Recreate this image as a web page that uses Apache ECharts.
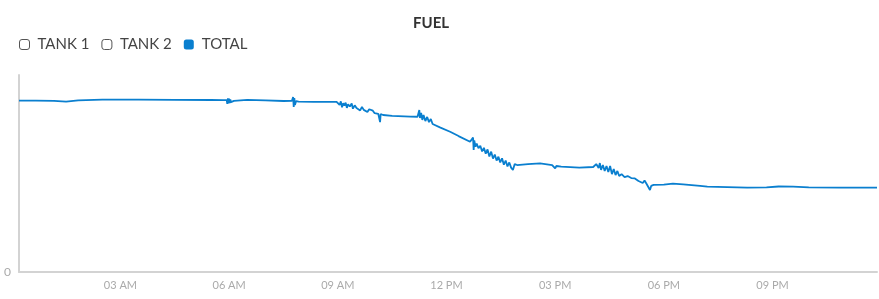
<!DOCTYPE html>
<html>
<head>
<meta charset="utf-8">
<script src="https://cdn.jsdelivr.net/npm/echarts@6/dist/echarts.min.js"></script>
<style>
html,body{margin:0;padding:0;background:#fff;}
#c{width:879px;height:299px;}
</style>
</head>
<body>
<div id="c"></div>
<script>
var titleText = 'FUEL';
var seriesNames = ['TANK 1', 'TANK 2', 'TOTAL'];
var tickHours = [3, 6, 9, 12, 15, 18, 21];
var tickLabels = ['03 AM', '06 AM', '09 AM', '12 PM', '03 PM', '06 PM', '09 PM'];
var axisStart = '00:12';
var axisEnd = '23:53';
var yMax = 1000;

var times = [
'00:12','00:40','01:10','01:30','01:50','02:30','03:30','04:30','05:30','05:50',
'05:56','05:57','05:58','05:59','06:00','06:01','06:02','06:03','06:05','06:08',
'06:30','07:00','07:30','07:44','07:46','07:47','07:48','07:49','07:51','07:55',
'08:20','08:58',
'09:01','09:03','09:05','09:07','09:09','09:11','09:13','09:15','09:17','09:20',
'09:23','09:25','09:28','09:31','09:34','09:37','09:40','09:43','09:46','09:49',
'09:52','09:55','09:58','10:01','10:04','10:07','10:10','10:11',
'10:15','10:30','11:00','11:12',
'11:15','11:16','11:18','11:20','11:22','11:25','11:28','11:31','11:34','11:37','11:40',
'11:50','12:06','12:20','12:39',
'12:42','12:44','12:45','12:46','12:48','12:50','12:53','12:56','12:59','13:02',
'13:05','13:08','13:11','13:14','13:17','13:20','13:23','13:26','13:29','13:32',
'13:35','13:38','13:41','13:44','13:47','13:50','13:53','13:57',
'14:15','14:35','14:55','15:00','15:02','15:10','15:40','16:03',
'16:08','16:10','16:12','16:14','16:16','16:19','16:22','16:25','16:28','16:31',
'16:34','16:37','16:40','16:43','16:46','16:50','16:55','17:00','17:06',
'17:12','17:18','17:21','17:25','17:28','17:31','17:34','17:37','17:39','17:43',
'18:00','18:15','18:32','19:00','19:12','19:45','20:18','20:50','21:10','21:34',
'22:00','22:52','23:30','23:53'
];
var totalValues = [
870,870,869,865,871,875,875,874,873,872,
872,853,882,856,880,858,876,862,870,869,
874,871,868,869,888,838,883,848,868,865,
864,864,
865,848,866,836,857,845,860,833,851,840,
855,829,846,832,842,820,838,823,828,812,
826,816,819,806,814,803,761,802,
797,793,789,788,
822,782,807,772,797,766,787,761,777,751,756,
733,712,690,661,
670,682,619,668,636,652,628,641,612,630,
601,622,586,611,576,596,566,585,556,577,
545,566,536,556,530,518,548,543,
548,551,543,526,538,535,530,533,
548,558,528,553,518,543,513,538,508,538,
497,523,492,513,487,497,482,487,477,
475,462,467,452,464,449,457,416,437,442,
444,449,445,437,433,431,428,430,434,433,
430,428,428,428
];

function mins(hm) {
  var p = hm.split(':');
  return (+p[0]) * 60 + (+p[1]);
}
var totalData = times.map(function (t, i) { return [mins(t), totalValues[i]]; });
var tickValues = tickHours.map(function (h) { return h * 60; });

var lineColor = '#0a7fcf';
var font = 'Lato, "Open Sans", sans-serif';

var chart = echarts.init(document.getElementById('c'));
chart.setOption({
  animation: false,
  title: {
    text: titleText,
    left: 408,
    top: 11,
    textStyle: { fontFamily: font, fontSize: 15, fontWeight: 'bold', color: '#333' }
  },
  legend: {
    left: 14,
    top: 32,
    itemWidth: 10,
    itemHeight: 10,
    itemGap: 12,
    icon: 'roundRect',
    textStyle: { fontFamily: font, fontSize: 15, color: '#444', padding: [0, 0, 0, 3] },
    data: [
      { name: seriesNames[0], itemStyle: { color: '#fff', borderColor: '#555', borderWidth: 1 } },
      { name: seriesNames[1], itemStyle: { color: '#fff', borderColor: '#555', borderWidth: 1 } },
      { name: seriesNames[2], itemStyle: { color: lineColor } }
    ]
  },
  grid: { left: 19, right: 2, top: 75, bottom: 27, containLabel: false },
  xAxis: {
    type: 'value',
    min: mins(axisStart),
    max: mins(axisEnd),
    axisLine: { lineStyle: { color: '#d3d3d3', width: 2 } },
    axisTick: { show: false },
    splitLine: { show: false },
    axisLabel: {
      customValues: tickValues,
      margin: 8,
      color: '#aaa',
      fontFamily: font,
      fontSize: 11,
      formatter: function (v) {
        var i = tickValues.indexOf(v);
        return i >= 0 ? tickLabels[i] : '';
      }
    }
  },
  yAxis: {
    type: 'value',
    min: 0,
    max: yMax,
    axisLine: { show: true, lineStyle: { color: '#d3d3d3', width: 2 } },
    axisTick: { show: false },
    splitLine: { show: false },
    axisLabel: {
      customValues: [0],
      margin: 8,
      color: '#aaa',
      fontFamily: font,
      fontSize: 12
    }
  },
  series: [
    { name: seriesNames[0], type: 'line', data: [], color: '#fff' },
    { name: seriesNames[1], type: 'line', data: [], color: '#fff' },
    {
      name: seriesNames[2],
      type: 'line',
      data: totalData,
      showSymbol: false,
      color: lineColor,
      lineStyle: { color: lineColor, width: 1.8 }
    }
  ]
});
</script>
</body>
</html>
